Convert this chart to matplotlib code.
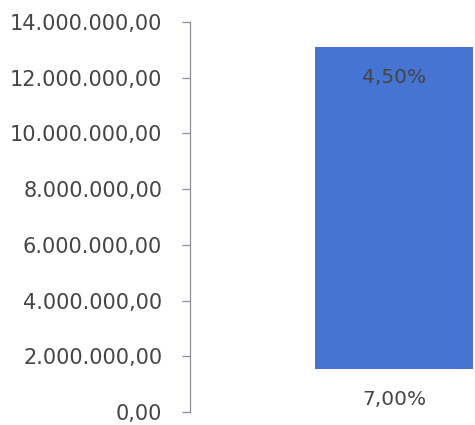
import matplotlib
matplotlib.use("Agg")
import matplotlib.pyplot as plt
from matplotlib.ticker import FuncFormatter

# data
categories = [""]
base_values = [1_530_000]      # invisible bottom part
visible_values = [11_580_000]  # blue part
top_labels = ["4,50%"]
bottom_labels = ["7,00%"]

blue = "#4674d2"
text_col = "#454545"
axis_col = "#8a8f99"

plt.rcParams["font.family"] = ["DejaVu Sans"]


def br_fmt(v, pos):
  s = "{:,.2f}".format(v)
  return s.replace(",", "X").replace(".", ",").replace("X", ".")


fig = plt.figure(figsize=(4.75, 4.25), dpi=100)
ax = fig.add_axes([190 / 475, 13 / 425, 285 / 475, 390 / 425])

x = list(range(len(categories)))
ax.bar(x, base_values, width=0.8, color="none")
bars = ax.bar(x, visible_values, bottom=base_values, width=0.8, color=blue)

for i, b in enumerate(bars):
  cx = b.get_x() + b.get_width() / 2
  ax.annotate(top_labels[i], (cx, base_values[i] + visible_values[i]), xytext=(0, -22),
              textcoords="offset points", ha="center", va="center", fontsize=14.5, color=text_col)
  ax.annotate(bottom_labels[i], (cx, base_values[i]), xytext=(0, -22),
              textcoords="offset points", ha="center", va="center", fontsize=14.5, color=text_col)

ax.set_ylim(0, 14_000_000)
ax.set_yticks(range(0, 14_000_001, 2_000_000))
ax.yaxis.set_major_formatter(FuncFormatter(br_fmt))
ax.set_xlim(-1.033, 0.41)
ax.set_xticks([])

for s in ["top", "right", "bottom"]:
  ax.spines[s].set_visible(False)
ax.spines["left"].set_color(axis_col)
ax.spines["left"].set_linewidth(0.9)
ax.tick_params(axis="y", length=6, width=0.9, color=axis_col, pad=14,
               labelsize=15, labelcolor=text_col)

fig.savefig("out.png", dpi=100)
